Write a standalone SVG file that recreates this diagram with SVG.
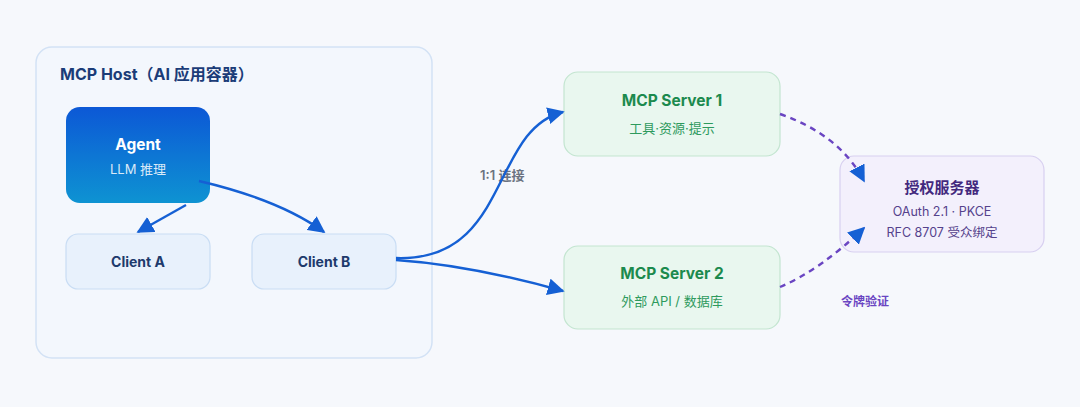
<svg xmlns="http://www.w3.org/2000/svg" width="1080" height="407" viewBox="0 0 1080 407">
<style>
text{font-family:Inter,"Noto Sans","Noto Sans CJK SC",sans-serif;text-anchor:middle}
.host{fill:#f3f7fd;stroke:#d3e2f5;stroke-width:1.5}
.client{fill:#e8f1fc;stroke:#c9ddf4;stroke-width:1.2}
.server{fill:#e9f7ef;stroke:#c3e5d0;stroke-width:1.2}
.auth{fill:#f3f0fc;stroke:#d8d0f0;stroke-width:1.2}
.t-host{font-size:16px;font-weight:700;fill:#1b3c78;text-anchor:start}
.t-client{font-size:14px;font-weight:700;fill:#1d3a6c}
.t-server{font-size:15.5px;font-weight:700;fill:#1c8a4e}
.s-server{font-size:13px;fill:#2e9a5d}
.t-auth{font-size:15px;font-weight:700;fill:#43297e}
.s-auth{font-size:12.5px;fill:#55428c}
.solid{fill:none;stroke:#1560d4;stroke-width:2.4;marker-end:url(#ah)}
.dash{fill:none;stroke:#6a45c2;stroke-width:2.4;stroke-dasharray:6 5;marker-end:url(#ah)}
</style>
<defs>
<linearGradient id="ag" x1="0" y1="0" x2="0" y2="1">
<stop offset="0" stop-color="#0c58d6"/>
<stop offset="1" stop-color="#0e93d2"/>
</linearGradient>
<marker id="ah" viewBox="0 0 10 10" refX="9" refY="5" markerWidth="17" markerHeight="17" markerUnits="userSpaceOnUse" orient="auto">
<path d="M0,0 L10,5 L0,10 z" fill="#1560d4"/>
</marker>
</defs>
<rect width="1080" height="407" fill="#f6f8fc"/>
<g id="host">
<rect class="host" x="36" y="47" width="396" height="311" rx="16"/>
<text class="t-host" x="60" y="80">MCP Host（AI 应用容器）</text>
</g>
<g id="agent">
<rect x="66" y="107" width="144" height="96" rx="14" fill="url(#ag)"/>
<text x="138" y="150" style="font-size:15.5px;font-weight:700;fill:#ffffff">Agent</text>
<text x="138" y="174" style="font-size:13px;fill:#ffffff;fill-opacity:0.85">LLM 推理</text>
</g>
<g id="client-a">
<rect class="client" x="66" y="234" width="144" height="55" rx="12"/>
<text class="t-client" x="138" y="267">Client A</text>
</g>
<g id="client-b">
<rect class="client" x="252" y="234" width="144" height="55" rx="12"/>
<text class="t-client" x="324" y="267">Client B</text>
</g>
<g id="server-1">
<rect class="server" x="564" y="72" width="216" height="84" rx="14"/>
<text class="t-server" x="672" y="106">MCP Server 1</text>
<text class="s-server" x="672" y="133">工具·资源·提示</text>
</g>
<g id="server-2">
<rect class="server" x="564" y="246" width="216" height="83" rx="14"/>
<text class="t-server" x="672" y="279">MCP Server 2</text>
<text class="s-server" x="672" y="306">外部 API / 数据库</text>
</g>
<g id="auth">
<rect class="auth" x="840" y="156" width="204" height="96" rx="14"/>
<text class="t-auth" x="942" y="193">授权服务器</text>
<text class="s-auth" x="942" y="216">OAuth 2.1 · PKCE</text>
<text class="s-auth" x="942" y="237">RFC 8707 受众绑定</text>
</g>
<g id="labels">
<text x="480" y="180" style="font-size:13px;font-weight:600;fill:#6b7280;text-anchor:start">1:1 连接</text>
<text x="841" y="306" style="font-size:12px;font-weight:600;fill:#6a45c2;text-anchor:start">令牌验证</text>
</g>
<g id="connectors">
<path class="solid" d="M186,205 L138,232"/>
<path class="solid" d="M199,181 Q280,200 324,232"/>
<path class="solid" d="M396,258 C510,262 490,130 563,112"/>
<path class="solid" d="M396,260 Q470,265 563,291"/>
<path class="dash" d="M780,114 Q840,135 864,181"/>
<path class="dash" d="M780,287 Q820,270 864,228"/>
</g>
</svg>
